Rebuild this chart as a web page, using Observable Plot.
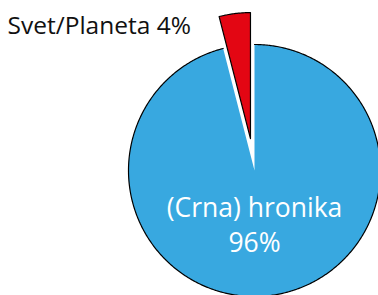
<!DOCTYPE html>
<html>
<head>
<meta charset="utf-8">
<script src="https://cdn.jsdelivr.net/npm/d3@7"></script>
<script src="https://cdn.jsdelivr.net/npm/@observablehq/plot@0.6"></script>
<style>
body { margin: 0; background: #fff; }
</style>
</head>
<body>
<div id="chart"></div>
<script>
const categories = ["(Crna) hronika", "Svet/Planeta"];
const values = [96, 4];
const labels = ["96%", "4%"];
const colors = ["#38a8e0", "#e30613"];

const W = 378, H = 295;
const R = 126;           // pixel radius
const cx = 254, cy = 170; // pixel center
const explode = [0, 0.255];

const arcs = d3.pie().sort(null)(values);
const slices = [];
const outlines = [];
arcs.forEach((a, i) => {
  const mid = (a.startAngle + a.endAngle) / 2;
  const ox = explode[i] * Math.sin(mid), oy = explode[i] * Math.cos(mid);
  const n = Math.max(4, Math.ceil((a.endAngle - a.startAngle) / 0.01));
  const arcPts = d3.range(n + 1).map(k => {
    const t = a.startAngle + (a.endAngle - a.startAngle) * k / n;
    return {x: ox + Math.sin(t), y: oy + Math.cos(t), s: categories[i]};
  });
  const c = {x: ox, y: oy, s: categories[i]};
  slices.push(c, ...arcPts, {...c});
  if (i === 0) outlines.push(...arcPts);
  else outlines.push({...c, s: "o" + i}, ...arcPts.map(p => ({...p, s: "o" + i})), {...c, s: "o" + i});
});

const textData = [
  {x: 0.0, y: -0.30, t: categories[0]},
  {x: 0.0, y: -0.58, t: labels[0]},
];
const topLabel = [{x: (7 - cx) / R, y: (cy - 26) / R, t: categories[1] + " " + labels[1]}];

const chart = Plot.plot({
  width: W, height: H,
  margin: 0,
  x: {domain: [-cx / R, (W - cx) / R], axis: null},
  y: {domain: [(cy - H) / R, cy / R], axis: null},
  color: {domain: categories, range: colors},
  style: {fontFamily: "'Open Sans', sans-serif"},
  marks: [
    Plot.line(slices, {x: "x", y: "y", z: "s", fill: "s", stroke: null, curve: "linear"}),
    Plot.line(outlines, {x: "x", y: "y", z: "s", stroke: "black", strokeWidth: 1.2, curve: "linear"}),
    Plot.text(textData, {x: "x", y: "y", text: "t", fill: "white", fontSize: 26.5}),
    Plot.text(topLabel, {x: "x", y: "y", text: "t", fill: "#111", fontSize: 24.5, textAnchor: "start"})
  ]
});
document.getElementById("chart").appendChild(chart);
</script>
</body>
</html>
